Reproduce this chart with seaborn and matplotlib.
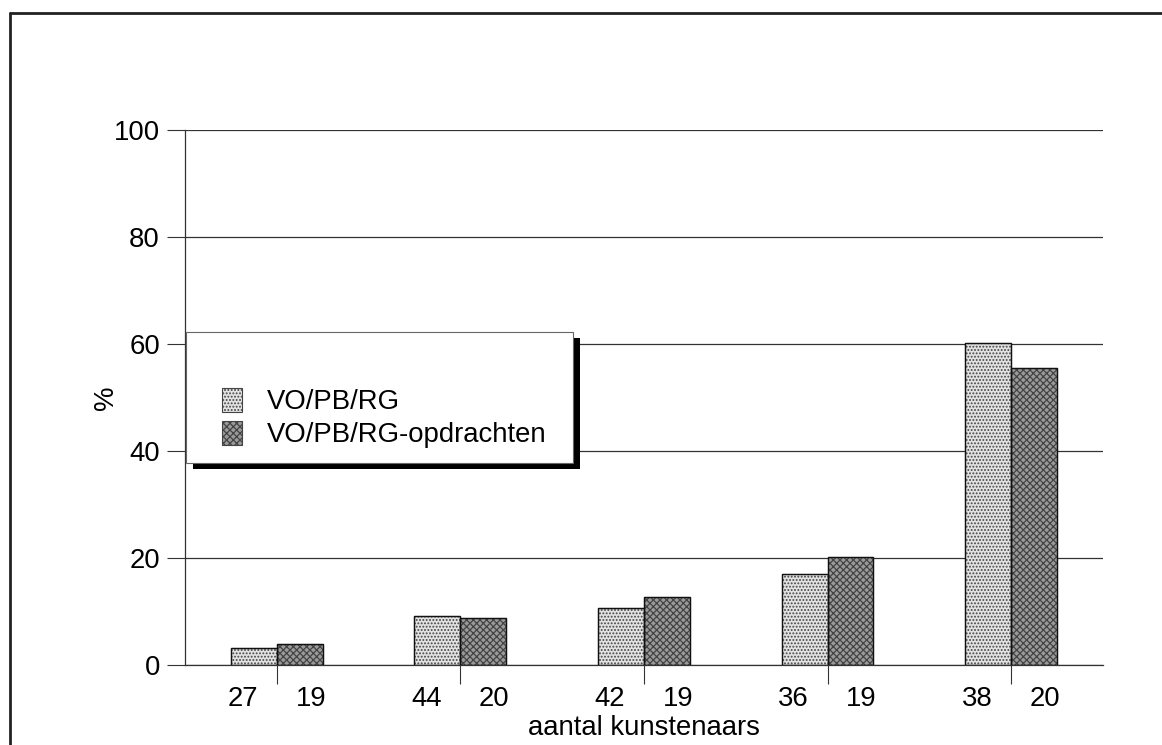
import numpy as np
import pandas as pd
import matplotlib
matplotlib.use("Agg")
import matplotlib.pyplot as plt
import seaborn as sns
from matplotlib.patches import Patch, Rectangle
from matplotlib.lines import Line2D

# data
groepen = ["g1", "g2", "g3", "g4", "g5"]
series = ["VO/PB/RG", "VO/PB/RG-opdrachten"]
pct_vo = [3.1, 9.2, 10.7, 17.0, 60.2]
pct_opdracht = [4.0, 8.7, 12.7, 20.1, 55.5]
n_vo = [27, 44, 42, 36, 38]
n_opdracht = [19, 20, 19, 19, 20]
yticks = [0, 20, 40, 60, 80, 100]

df = pd.DataFrame({
    "groep": groepen * 2,
    "serie": [series[0]] * 5 + [series[1]] * 5,
    "pct": pct_vo + pct_opdracht,
})

sns.set_style("white")
plt.rcParams["font.family"] = ["Liberation Sans", "DejaVu Sans"]
plt.rcParams["hatch.linewidth"] = 0.9
plt.rcParams["text.color"] = "black"
plt.rcParams["xtick.color"] = "black"
plt.rcParams["ytick.color"] = "black"
plt.rcParams["axes.labelcolor"] = "black"
fs = 19.8

fig = plt.figure(figsize=(11.62, 7.45), dpi=100)
ax = fig.add_axes([0.1592, 0.1074, 0.79, 0.7181])

light = "#e2e2e2"
dark = "#9a9a9a"
sns.barplot(data=df, x="groep", y="pct", hue="serie", palette=[light, dark],
            width=0.5, saturation=1, edgecolor="#444444", linewidth=0.8,
            legend=False, ax=ax)

hatches = [".....", "xxxxx"]
for cont, h in zip(ax.containers, hatches):
    for bar in cont:
        bar.set_hatch(h)
        ax.add_patch(Rectangle(bar.get_xy(), bar.get_width(), bar.get_height(),
                               fill=False, ec="#111111", lw=1, zorder=3))

ax.set_xlim(-0.5, 4.5)
ax.set_ylim(0, 100)
ax.set_yticks(yticks)
ax.set_yticklabels([str(t) for t in yticks], fontsize=fs)
ax.tick_params(axis="y", length=13, width=0.8, pad=5, direction="out", color="#333333", left=True)

# group ticks without labels, counts as minor tick labels
ax.set_xticks(range(5))
ax.set_xticklabels([""] * 5)
ax.tick_params(axis="x", which="major", length=14, width=0.8, direction="out", color="#333333", bottom=True)
pos = []
labs = []
for i in range(5):
    pos += [i - 0.185, i + 0.185]
    labs += [str(n_vo[i]), str(n_opdracht[i])]
ax.set_xticks(pos, minor=True)
ax.set_xticklabels(labs, minor=True, fontsize=fs)
ax.tick_params(axis="x", which="minor", length=0, pad=15)

ax.set_xlabel("aantal kunstenaars", fontsize=fs, labelpad=2)
ax.set_ylabel("%", fontsize=fs, labelpad=-4)

ax.yaxis.grid(True, color="#333333", lw=0.9)
ax.xaxis.grid(False)
ax.set_axisbelow(True)
for s in ["top", "right"]:
    ax.spines[s].set_visible(False)
for s in ["left", "bottom"]:
    ax.spines[s].set_color("#333333")
    ax.spines[s].set_linewidth(0.9)

# legend box with black shadow
bx, by, bw, bh = 0.001, 0.3776, 0.4216, 0.2448
ax.add_patch(Rectangle((bx + 0.0076, by - 0.0112), bw, bh, transform=ax.transAxes,
                       fc="black", ec="none", zorder=5, clip_on=False))
ax.add_patch(Rectangle((bx, by), bw, bh, transform=ax.transAxes,
                       fc="white", ec="#666666", lw=0.8, zorder=6, clip_on=False))
handles = [Patch(facecolor=light, edgecolor="#444444", hatch=hatches[0], lw=0.8),
           Patch(facecolor=dark, edgecolor="#444444", hatch=hatches[1], lw=0.8)]
leg = ax.legend(handles, series, loc="upper left", bbox_to_anchor=(0.0403, 0.5178),
                frameon=False, fontsize=fs, borderpad=0, borderaxespad=0,
                handlelength=0.72, handleheight=0.97, handletextpad=0.9, labelspacing=0.2)
leg.set_zorder(7)

# frame of the scanned page
fig.add_artist(Line2D([0.0086, 0.0086], [0, 0.9826], transform=fig.transFigure, color="#222222", lw=2))
fig.add_artist(Line2D([0.0086, 1], [0.9826, 0.9826], transform=fig.transFigure, color="#222222", lw=2))

fig.savefig("out.png", dpi=100, facecolor="white")
